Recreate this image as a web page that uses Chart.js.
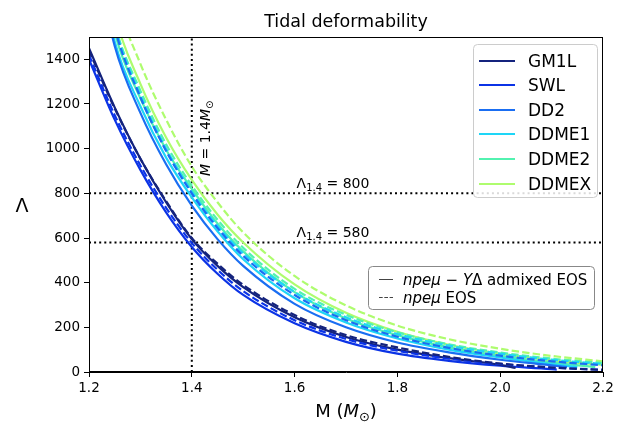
<!DOCTYPE html>
<html>
<head>
<meta charset="utf-8">
<style>
    body { margin: 0; background: #fff; }
</style>
</head>
<body>
<canvas id='myChart' width='630' height='425'></canvas>
<script src='https://cdn.jsdelivr.net/npm/chart.js'></script>
<script>
    // masses (M_sun) used by the npe-mu curves
    const massGrid = [1.2, 1.25, 1.3, 1.35, 1.4, 1.45, 1.5, 1.6, 1.7, 1.8, 1.9, 2.0, 2.1, 2.2];

    // hyperon/delta admixed EOS (solid) -- each ends at its own max mass
    const gm1lM   = [1.2, 1.25, 1.3, 1.35, 1.4, 1.45, 1.5, 1.6, 1.7, 1.8, 1.9, 2.0, 2.03];
    const gm1lL   = [1450, 1185, 955, 760, 595, 475, 380, 245, 157, 100, 62, 32, 18];
    const swlM    = [1.2, 1.25, 1.3, 1.35, 1.4, 1.45, 1.5, 1.6, 1.7, 1.8, 1.9, 2.0, 2.1, 2.11];
    const swlL    = [1400, 1130, 905, 715, 560, 440, 345, 218, 135, 82, 50, 28, 13, 11];
    const dd2M    = [1.2, 1.25, 1.3, 1.35, 1.4, 1.45, 1.5, 1.6, 1.7, 1.8, 1.9, 2.0, 2.1, 2.13];
    const dd2L    = [2000, 1460, 1160, 930, 745, 595, 475, 305, 200, 132, 88, 55, 30, 22];
    const ddme1M  = [1.2, 1.25, 1.3, 1.35, 1.4, 1.45, 1.5, 1.6, 1.7, 1.8, 1.9, 2.0, 2.1, 2.15];
    const ddme1L  = [2050, 1480, 1190, 960, 782, 630, 505, 330, 222, 150, 100, 65, 35, 22];
    const ddme2M  = [1.2, 1.25, 1.3, 1.35, 1.4, 1.45, 1.5, 1.6, 1.7, 1.8, 1.9, 2.0, 2.1, 2.185];
    const ddme2L  = [2100, 1520, 1225, 995, 820, 665, 540, 358, 240, 165, 110, 72, 42, 22];
    const ddmexM  = massGrid;
    const ddmexL  = [2200, 1600, 1290, 1050, 860, 705, 580, 392, 265, 180, 122, 82, 52, 32];

    // npe-mu EOS (dashed), all on massGrid
    const gm1lNpe  = [1440, 1180, 955, 765, 600, 485, 390, 255, 165, 110, 68, 38, 20, 9];
    const swlNpe   = [1420, 1150, 925, 735, 578, 458, 362, 232, 148, 95, 60, 36, 20, 10];
    const dd2Npe   = [2100, 1540, 1230, 990, 800, 645, 520, 345, 232, 158, 108, 73, 48, 30];
    const ddme1Npe = [2100, 1550, 1240, 1000, 808, 655, 532, 358, 245, 170, 118, 82, 55, 36];
    const ddme2Npe = [2150, 1560, 1260, 1020, 835, 682, 556, 372, 256, 178, 124, 87, 60, 40];
    const ddmexNpe = [2300, 1700, 1380, 1130, 920, 760, 625, 430, 298, 208, 147, 104, 72, 48];

    const names  = ['GM1L', 'SWL', 'DD2', 'DDME1', 'DDME2', 'DDMEX'];
    const colors = ['#14237d', '#0b33e6', '#1a6ef2', '#1ed6f7', '#52f2b0', '#aefc6e'];
    const solidM = [gm1lM, swlM, dd2M, ddme1M, ddme2M, ddmexM];
    const solidL = [gm1lL, swlL, dd2L, ddme1L, ddme2L, ddmexL];
    const npeL   = [gm1lNpe, swlNpe, dd2Npe, ddme1Npe, ddme2Npe, ddmexNpe];

    // reference lines
    const lambdaRefs = [800, 580];
    const massRef = 1.4;

    const xTicks = [1.2, 1.4, 1.6, 1.8, 2.0, 2.2];
    const yTicks = [0, 200, 400, 600, 800, 1000, 1200, 1400];

    function pts(ms, ls) {
        return ms.map(function (m, i) { return {x: m, y: ls[i]}; });
    }

    let datasets = [];
    for (let i = 0; i < names.length; i++) {
        datasets.push({
            label: names[i], data: pts(solidM[i], solidL[i]),
            borderColor: colors[i], borderWidth: 2.2, order: 2
        });
    }
    for (let i = 0; i < names.length; i++) {
        datasets.push({
            label: names[i] + ' npe', data: pts(massGrid, npeL[i]),
            borderColor: colors[i], borderWidth: 2.2, borderDash: [7.4, 3.2], order: 1
        });
    }
    for (let v of lambdaRefs) {
        datasets.push({
            data: [{x: 1.2, y: v}, {x: 2.2, y: v}], borderColor: '#000',
            borderWidth: 2, borderDash: [2, 3.1], order: 3, cubicInterpolationMode: 'default', tension: 0
        });
    }
    datasets.push({
        data: [{x: massRef, y: 0}, {x: massRef, y: 1500}], borderColor: '#000',
        borderWidth: 2, borderDash: [2, 3.1], order: 3, cubicInterpolationMode: 'default', tension: 0
    });

    const FONT = "'DejaVu Sans', sans-serif";

    // draws text pieces one after another, returns total width
    function rich(ctx, parts, x, y) {
        let w = 0;
        for (let p of parts) {
            ctx.font = p.font;
            ctx.fillText(p.t, x + w, y + (p.dy || 0));
            w += ctx.measureText(p.t).width;
        }
        return w;
    }
    function richWidth(ctx, parts) {
        let w = 0;
        for (let p of parts) { ctx.font = p.font; w += ctx.measureText(p.t).width; }
        return w;
    }
    function roundBox(ctx, x, y, w, h, r, stroke) {
        ctx.beginPath();
        ctx.roundRect(x, y, w, h, r);
        ctx.fillStyle = 'rgba(255,255,255,0.85)';
        ctx.fill();
        ctx.strokeStyle = stroke;
        ctx.lineWidth = 1;
        ctx.stroke();
    }

    const decor = {
        id: 'decor',
        afterDraw(chart) {
            const ctx = chart.ctx;
            const a = chart.chartArea;
            ctx.save();
            // frame
            ctx.strokeStyle = '#000';
            ctx.lineWidth = 1;
            ctx.strokeRect(a.left + 0.5, a.top + 0.5, a.right - a.left - 1, a.bottom - a.top - 1);
            ctx.fillStyle = '#000';
            ctx.textBaseline = 'alphabetic';

            // title
            ctx.font = '17.5px ' + FONT;
            ctx.textAlign = 'center';
            ctx.fillText('Tidal deformability', (a.left + a.right) / 2, 27);

            // y label
            ctx.font = '19px ' + FONT;
            ctx.fillText('\u039b', 22, 212);

            // x label
            ctx.textAlign = 'left';
            let xl = [
                {t: 'M (', font: '18px ' + FONT},
                {t: 'M', font: 'italic 18px ' + FONT},
                {t: '\u2299', font: '13px ' + FONT, dy: 4},
                {t: ')', font: '18px ' + FONT}
            ];
            rich(ctx, xl, (a.left + a.right) / 2 - richWidth(ctx, xl) / 2, 417);

            // lambda annotations
            const xs = chart.scales.x, ys = chart.scales.y;
            for (let v of lambdaRefs) {
                rich(ctx, [
                    {t: '\u039b', font: '14px ' + FONT},
                    {t: '1.4', font: '10px ' + FONT, dy: 3},
                    {t: ' = ' + v, font: '14px ' + FONT}
                ], xs.getPixelForValue(1.6) + 2, ys.getPixelForValue(v) - 5);
            }

            // vertical annotation
            ctx.save();
            ctx.translate(xs.getPixelForValue(massRef) + 18, 176);
            ctx.rotate(-Math.PI / 2);
            rich(ctx, [
                {t: 'M', font: 'italic 14px ' + FONT},
                {t: ' = 1.4', font: '14px ' + FONT},
                {t: 'M', font: 'italic 14px ' + FONT},
                {t: '\u2299', font: '10px ' + FONT, dy: 3}
            ], 0, 0);
            ctx.restore();

            // EOS legend
            roundBox(ctx, 473.5, 44.5, 124, 153, 4, '#cccccc');
            const rows = [61, 85, 110, 134, 159, 184];
            ctx.font = '17px ' + FONT;
            for (let i = 0; i < names.length; i++) {
                ctx.strokeStyle = colors[i];
                ctx.lineWidth = 2;
                ctx.beginPath();
                ctx.moveTo(479, rows[i]);
                ctx.lineTo(515, rows[i]);
                ctx.stroke();
                ctx.fillStyle = '#000';
                ctx.fillText(names[i], 528, rows[i] + 6);
            }

            // line style legend
            roundBox(ctx, 368.5, 266.5, 226, 43, 4, '#888888');
            ctx.strokeStyle = '#444';
            ctx.lineWidth = 1;
            ctx.beginPath();
            ctx.moveTo(379, 279.5);
            ctx.lineTo(393, 279.5);
            ctx.stroke();
            ctx.setLineDash([3.7, 1.6]);
            ctx.beginPath();
            ctx.moveTo(379, 297.5);
            ctx.lineTo(393, 297.5);
            ctx.stroke();
            ctx.setLineDash([]);
            ctx.fillStyle = '#000';
            rich(ctx, [
                {t: 'npe\u03bc', font: 'italic 15px ' + FONT},
                {t: ' \u2212 ', font: '15px ' + FONT},
                {t: 'Y', font: 'italic 15px ' + FONT},
                {t: '\u0394 admixed EOS', font: '15px ' + FONT}
            ], 403, 284.5);
            rich(ctx, [
                {t: 'npe\u03bc', font: 'italic 15px ' + FONT},
                {t: ' EOS', font: '15px ' + FONT}
            ], 403, 302.5);
            ctx.restore();
        }
    };

    const config = {
        type: 'line',
        data: {datasets: datasets},
        options: {
            responsive: false,
            animation: false,
            layout: {padding: {top: 37, right: 27, left: 0, bottom: 0}},
            elements: {
                point: {radius: 0},
                line: {cubicInterpolationMode: 'monotone', fill: false}
            },
            datasets: {line: {clip: 0}},
            plugins: {legend: {display: false}, tooltip: {enabled: false}, title: {display: false}},
            scales: {
                x: {
                    type: 'linear', min: 1.2, max: 2.2,
                    afterFit: function (s) { s.height = 53; },
                    afterBuildTicks: function (s) { s.ticks = xTicks.map(function (v) { return {value: v}; }); },
                    grid: {display: true, drawOnChartArea: false, drawTicks: true, tickLength: 5, color: '#000'},
                    border: {display: true, color: '#000'},
                    ticks: {
                        color: '#000', font: {family: 'DejaVu Sans', size: 13.5}, padding: 3, maxRotation: 0,
                        callback: function (v) { return v.toFixed(1); }
                    }
                },
                y: {
                    type: 'linear', min: 0, max: 1500,
                    afterFit: function (s) { s.width = 89; },
                    afterBuildTicks: function (s) { s.ticks = yTicks.map(function (v) { return {value: v}; }); },
                    grid: {display: true, drawOnChartArea: false, drawTicks: true, tickLength: 5, color: '#000'},
                    border: {display: true, color: '#000'},
                    ticks: {
                        color: '#000', font: {family: 'DejaVu Sans', size: 13.5}, padding: 4,
                        callback: function (v) { return String(v); }
                    }
                }
            }
        },
        plugins: [decor]
    };

    new Chart(document.getElementById('myChart'), config);
</script>
</body>
</html>
